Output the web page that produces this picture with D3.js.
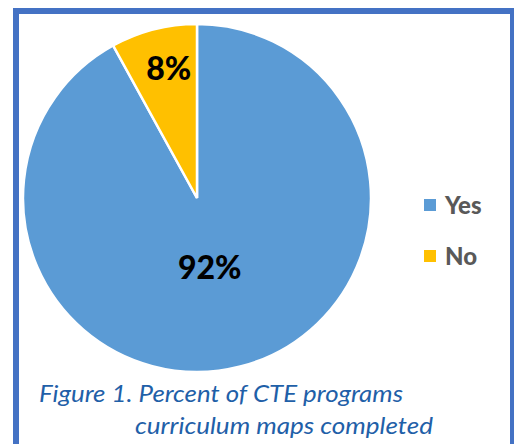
<!DOCTYPE html>
<html>
<head>
<meta charset="utf-8">
<script src="https://cdn.jsdelivr.net/npm/d3@7"></script>
<style>
  html, body { margin: 0; padding: 0; background: #fff; }
  svg { display: block; }
</style>
</head>
<body>
<div id="chart"></div>
<script>
// Chart data
const categories = ["Yes", "No"];
const values = [92, 8];
const colors = ["#5B9BD5", "#FFC000"];
const captionLines = ["Figure 1. Percent of CTE programs", "curriculum maps completed"];

const width = 514;
const height = 444;
const cx = 197, cy = 198, radius = 174;

const svg = d3.select("#chart")
    .append("svg")
    .attr("width", width)
    .attr("height", height);

// Outer frame (bottom edge runs off the picture)
svg.append("rect")
    .attr("x", 16)
    .attr("y", 11)
    .attr("width", 497)
    .attr("height", 460)
    .attr("fill", "#fff")
    .attr("stroke", "#4472C4")
    .attr("stroke-width", 6);

const color = d3.scaleOrdinal().domain(categories).range(colors);

const pie = d3.pie().sort(null).value(d => d.value);
const data = categories.map((c, i) => ({ name: c, value: values[i] }));
const arcs = pie(data);

const arc = d3.arc().innerRadius(0).outerRadius(radius);

const g = svg.append("g")
    .attr("transform", `translate(${cx}, ${cy})`);

g.selectAll("path")
    .data(arcs)
    .join("path")
    .attr("d", arc)
    .attr("fill", d => color(d.data.name))
    .attr("stroke", "#fff")
    .attr("stroke-width", 2.5);

// Data labels: small slices near the rim, big ones toward the middle
const total = d3.sum(values);
g.selectAll("text.label")
    .data(arcs)
    .join("text")
    .attr("class", "label")
    .attr("transform", d => {
        const small = d.data.value / total < 0.2;
        const r = small ? radius * 0.77 : radius * 0.41;
        const c = d3.arc().innerRadius(r).outerRadius(r).centroid(d);
        return `translate(${c[0] + (small ? 5 : -5)}, ${c[1]})`;
    })
    .attr("text-anchor", "middle")
    .attr("dy", "0.36em")
    .style("font-family", "Lato, sans-serif")
    .style("font-weight", "900")
    .style("font-size", "32px")
    .style("fill", "#000")
    .text(d => `${d.data.value}%`);

// Legend
const legendY = d3.scalePoint().domain(categories).range([205, 256]);

const legend = svg.append("g")
    .selectAll("g")
    .data(categories)
    .join("g")
    .attr("transform", d => `translate(424, ${legendY(d)})`);

legend.append("rect")
    .attr("x", 0)
    .attr("y", -6)
    .attr("width", 12)
    .attr("height", 12)
    .attr("fill", d => color(d));

legend.append("text")
    .attr("x", 21)
    .attr("y", 0)
    .attr("dy", "0.36em")
    .style("font-family", "Lato, sans-serif")
    .style("font-weight", "900")
    .style("font-size", "24px")
    .style("fill", "#595959")
    .text(d => d);

// Caption
const captionPos = [{ x: 39, y: 402, w: 364 }, { x: 135, y: 434, w: 298 }];
svg.append("g")
    .selectAll("text")
    .data(captionLines)
    .join("text")
    .attr("x", (d, i) => captionPos[i].x)
    .attr("y", (d, i) => captionPos[i].y)
    .attr("textLength", (d, i) => captionPos[i].w)
    .attr("lengthAdjust", "spacingAndGlyphs")
    .style("font-family", "Lato, sans-serif")
    .style("font-style", "italic")
    .style("font-size", "24px")
    .style("fill", "#1F60A8")
    .text(d => d);
</script>
</body>
</html>
